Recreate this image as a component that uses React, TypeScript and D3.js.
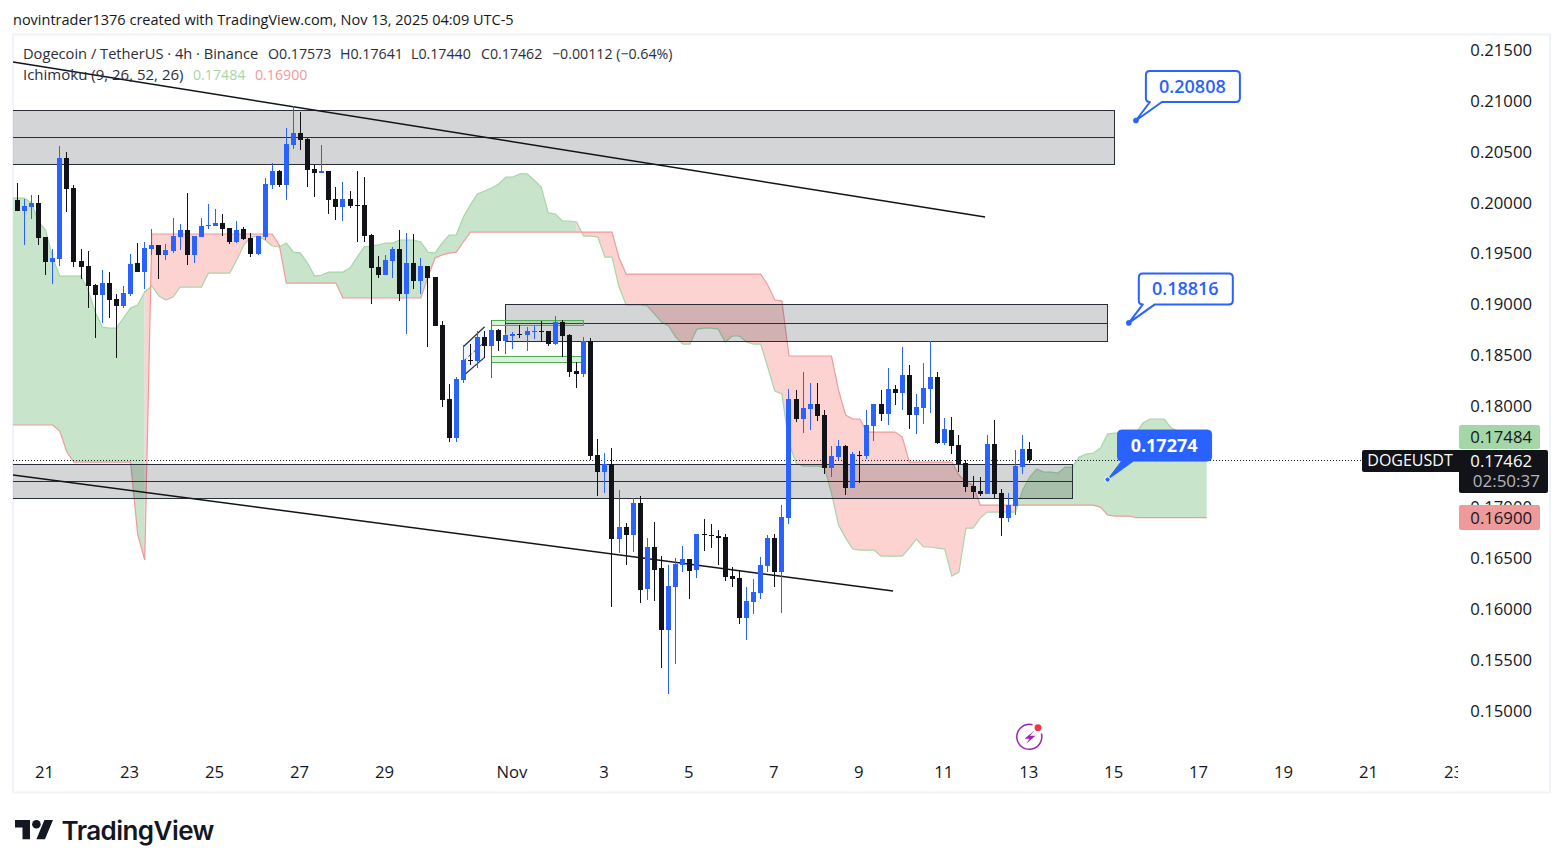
import * as d3 from "d3";

// candles
const opens = [
  0.20026,0.19917,0.19957,0.19996,0.19661,0.19415,0.19444,0.20439,0.20143,0.19425,
  0.19376,0.19189,0.19091,0.19208,0.19051,0.18982,0.19101,0.19405,0.19316,0.19543,
  0.19583,0.19484,0.19523,0.19661,0.1973,0.19484,0.19661,0.1977,0.1977,0.19799,
  0.1975,0.19612,0.1974,0.19651,0.19494,0.19661,0.20173,0.20311,0.20173,0.20567,
  0.20685,0.20626,0.20331,0.20291,0.20311,0.20035,0.19957,0.20035,0.19977,0.19977,
  0.19681,0.19366,0.19287,0.19425,0.19543,0.19101,0.19405,0.19228,0.19376,0.19267,
  0.18795,0.18067,0.17682,0.18254,0.1845,0.1844,0.18677,0.18588,0.18746,0.18637,
  0.18687,0.18707,0.18697,0.18726,0.18736,0.18736,0.18608,0.18824,0.18697,0.18342,
  0.18312,0.18637,0.17515,0.17348,0.17427,0.16689,0.16807,0.16728,0.17042,0.16197,
  0.1661,0.16403,0.15793,0.16216,0.16433,0.16492,0.16383,0.16738,0.16728,0.16718,
  0.16708,0.16324,0.16305,0.15911,0.16068,0.16157,0.16423,0.16698,0.16364,0.16895,
  0.18067,0.1787,0.17968,0.18018,0.17909,0.17388,0.17495,0.17604,0.17191,0.17515,
  0.17505,0.178,0.18018,0.17919,0.18165,0.18125,0.18303,0.17909,0.17978,0.18165,
  0.18283,0.17633,0.17761,0.17614,0.17437,0.1721,0.17161,0.17131,0.17624,0.17141,
  0.16895,0.17013,0.17397,0.17573,
];
const highs = [
  0.20192,0.20035,0.20075,0.20075,0.19661,0.19543,0.20557,0.20498,0.20173,0.19543,
  0.19523,0.19199,0.19336,0.19316,0.19101,0.19179,0.19494,0.19602,0.19612,0.1974,
  0.19583,0.19592,0.19848,0.1979,0.20094,0.19671,0.19848,0.19987,0.19937,0.19888,
  0.1975,0.19819,0.1976,0.197,0.19671,0.20242,0.2039,0.20321,0.20734,0.20951,
  0.20892,0.20636,0.2037,0.20567,0.20311,0.20153,0.20203,0.20114,0.20311,0.20252,
  0.19691,0.19474,0.19484,0.19563,0.1973,0.197,0.19691,0.19454,0.19376,0.19267,
  0.18834,0.18215,0.18283,0.18598,0.18608,0.18736,0.18736,0.18844,0.18756,0.18716,
  0.18726,0.18795,0.18775,0.18785,0.18834,0.18736,0.18883,0.18844,0.18707,0.1843,
  0.18677,0.18667,0.17673,0.17535,0.17584,0.17171,0.16846,0.17091,0.17111,0.16698,
  0.16856,0.16521,0.16433,0.16501,0.1662,0.16492,0.16738,0.16886,0.16836,0.16777,
  0.16738,0.16413,0.16383,0.16216,0.16295,0.16511,0.16728,0.16738,0.17023,0.18165,
  0.18155,0.18332,0.18224,0.18224,0.17958,0.17604,0.17663,0.17614,0.17545,0.17555,
  0.17958,0.18018,0.18155,0.18371,0.18205,0.18578,0.18401,0.18116,0.1842,0.18637,
  0.18332,0.17879,0.17889,0.17712,0.17466,0.17308,0.17299,0.17712,0.1786,0.17181,
  0.17141,0.17565,0.17712,0.17641,
];
const lows = [
  0.19917,0.19583,0.19838,0.19583,0.19287,0.19199,0.19376,0.19907,0.19366,0.19247,
  0.18962,0.18667,0.18814,0.18864,0.1847,0.18962,0.19081,0.19316,0.19149,0.19484,
  0.19247,0.19435,0.19503,0.19533,0.19386,0.19405,0.19661,0.1974,0.1977,0.19671,
  0.19592,0.19602,0.19632,0.19464,0.19484,0.19632,0.20133,0.20153,0.20026,0.20528,
  0.20518,0.20153,0.20055,0.20291,0.19888,0.19829,0.19819,0.19947,0.19612,0.19612,
  0.19002,0.19257,0.19287,0.19257,0.19031,0.18707,0.19149,0.19101,0.18578,0.18785,
  0.17988,0.17643,0.17643,0.18224,0.18401,0.18371,0.1847,0.18273,0.18539,0.1851,
  0.18559,0.18667,0.18539,0.18657,0.18628,0.18588,0.18598,0.1848,0.18283,0.18175,
  0.18283,0.17466,0.17112,0.17141,0.16019,0.16551,0.16433,0.1656,0.16058,0.16088,
  0.16078,0.15419,0.15163,0.15458,0.16364,0.16098,0.16305,0.1657,0.166,0.16433,
  0.16275,0.16216,0.15852,0.15694,0.15951,0.16098,0.16364,0.16216,0.1596,0.16836,
  0.1784,0.17731,0.17761,0.1785,0.17329,0.17299,0.17466,0.17122,0.17191,0.17239,
  0.17476,0.17653,0.1785,0.1781,0.18008,0.17958,0.17771,0.17722,0.1782,0.17929,
  0.17623,0.17614,0.17525,0.17348,0.17151,0.17092,0.17112,0.17131,0.17092,0.16718,
  0.16856,0.16925,0.17329,0.1744,
];
const closes = [
  0.19917,0.19967,0.19996,0.19651,0.19415,0.19454,0.20439,0.20133,0.19415,0.19366,
  0.19179,0.19091,0.19208,0.19041,0.18982,0.1911,0.19396,0.19316,0.19553,0.19583,
  0.19484,0.19533,0.19671,0.1973,0.19484,0.19671,0.1977,0.1978,0.19799,0.1974,
  0.19612,0.1973,0.19642,0.19494,0.19671,0.20183,0.20311,0.20173,0.20577,0.20685,
  0.20616,0.20321,0.20291,0.20311,0.20026,0.19957,0.20035,0.19967,0.19967,0.19671,
  0.19356,0.19287,0.19435,0.19543,0.19101,0.19405,0.19228,0.19376,0.19257,0.18785,
  0.18057,0.17682,0.18263,0.1845,0.1844,0.18677,0.18588,0.18746,0.18637,0.18697,
  0.18707,0.18697,0.18736,0.18736,0.18726,0.18608,0.18824,0.18687,0.18332,0.18312,
  0.18637,0.17505,0.17348,0.17427,0.16689,0.16807,0.16728,0.17042,0.16187,0.1661,
  0.16383,0.15793,0.16226,0.16443,0.16492,0.16373,0.16738,0.16728,0.16718,0.16698,
  0.16314,0.16295,0.15911,0.16078,0.16167,0.16433,0.16698,0.16364,0.16905,0.18067,
  0.1787,0.17978,0.18018,0.17899,0.17388,0.17505,0.17604,0.17191,0.17525,0.17505,
  0.1781,0.18018,0.17919,0.18165,0.18125,0.18303,0.17909,0.17988,0.18175,0.18283,
  0.17633,0.17771,0.17604,0.17427,0.172,0.17151,0.17131,0.17624,0.17131,0.16895,
  0.17023,0.17407,0.17575,0.17462,
];

// ichimoku leading spans, starting one bar left of the first candle and
// running 25 bars past the last one
const spanA = [
  0.20045,
  0.20045,0.20045,0.19996,0.19809,0.1973,0.19454,0.19277,0.19277,0.19277,0.19277,
  0.1914,0.18923,0.18775,0.18765,0.18765,0.18864,0.18962,0.18992,0.1912,0.19179,
  0.19081,0.19041,0.19071,0.19169,0.19169,0.19169,0.19169,0.19306,0.19306,0.19306,
  0.19306,0.19435,0.19583,0.19661,0.19671,0.19632,0.19573,0.19563,0.19602,0.19513,
  0.19503,0.19405,0.19277,0.19287,0.19316,0.19316,0.19316,0.19356,0.19464,0.19563,
  0.19573,0.19583,0.19602,0.19602,0.19632,0.19632,0.19632,0.19612,0.19513,0.19503,
  0.19602,0.19681,0.19681,0.19858,0.19977,0.20085,0.20114,0.20143,0.20183,0.20252,
  0.20252,0.20282,0.20282,0.20222,0.20153,0.19898,0.19888,0.19819,0.19819,0.19809,
  0.19671,0.19671,0.19661,0.19464,0.19464,0.19169,0.18992,0.18992,0.18992,0.18982,
  0.18904,0.18824,0.18785,0.18677,0.18608,0.18608,0.18755,0.18765,0.18765,0.18755,
  0.18628,0.18687,0.18687,0.18628,0.18608,0.18608,0.18381,0.18145,0.18116,0.17633,
  0.17437,0.17407,0.17407,0.17407,0.17397,0.17141,0.16826,0.16698,0.1659,0.1658,
  0.1658,0.1658,0.16521,0.16521,0.16521,0.16521,0.166,0.16689,0.1661,0.1661,
  0.166,0.1659,0.16324,0.16364,0.16797,0.16797,0.16895,0.16954,0.16954,0.16954,
  0.16954,0.16954,0.17171,0.17299,0.17378,0.17348,0.17348,0.17338,0.17397,0.17397,
  0.17495,0.17525,0.17535,0.17584,0.17722,0.17732,0.17732,0.17732,0.17732,0.1783,
  0.1787,0.1787,0.1787,0.17781,0.17751,0.17751,0.17663,0.17484,0.17484,
];
const spanB = [
  0.17811,
  0.17811,0.17811,0.17811,0.17811,0.17811,0.17811,0.17751,0.17545,0.17446,0.17446,
  0.17446,0.17446,0.17446,0.17446,0.17446,0.17446,0.17446,0.16738,0.16482,0.19691,
  0.19691,0.19691,0.19691,0.19691,0.19691,0.19691,0.19691,0.19691,0.19691,0.19691,
  0.19691,0.19691,0.19691,0.19691,0.19691,0.19691,0.19691,0.19583,0.19208,0.19208,
  0.19208,0.19208,0.19208,0.19208,0.19208,0.19208,0.19061,0.19061,0.19061,0.19061,
  0.19061,0.19061,0.19061,0.19061,0.19061,0.19061,0.19061,0.19061,0.19267,0.19454,
  0.19484,0.19503,0.19513,0.19612,0.1971,0.1971,0.1971,0.1971,0.1971,0.1971,
  0.1971,0.1971,0.1971,0.1971,0.1971,0.1971,0.1971,0.1971,0.1971,0.1971,
  0.1971,0.1971,0.1971,0.1971,0.1971,0.19454,0.19297,0.19297,0.19297,0.19297,
  0.19297,0.19297,0.19297,0.19297,0.19297,0.19297,0.19297,0.19297,0.19297,0.19297,
  0.19297,0.19297,0.19297,0.19297,0.19297,0.19297,0.19189,0.19041,0.19031,0.1849,
  0.1849,0.1849,0.1849,0.1849,0.1849,0.1849,0.18155,0.17909,0.1787,0.1787,
  0.17741,0.17741,0.17741,0.17741,0.17741,0.17692,0.17446,0.17446,0.17446,0.17446,
  0.17446,0.17446,0.17446,0.17319,0.17249,0.1722,0.17023,0.17023,0.17023,0.17023,
  0.17023,0.17023,0.17023,0.17023,0.17023,0.17023,0.17023,0.17023,0.17023,0.17023,
  0.17023,0.17023,0.17023,0.17003,0.16925,0.16915,0.16915,0.16915,0.169,0.169,
  0.169,0.169,0.169,0.169,0.169,0.169,0.169,0.169,0.169,
];

const priceTicks = [0.215, 0.21, 0.205, 0.2, 0.195, 0.19, 0.185, 0.18, 0.17, 0.165, 0.16, 0.155, 0.15];
const timeLabels = ["21", "23", "25", "27", "29", "Nov", "3", "5", "7", "9", "11", "13", "15", "17", "19", "21", "23"];
const timeBars = [4, 16, 28, 40, 52, 70, 83, 95, 107, 119, 131, 143, 155, 167, 179, 191, 203];

// drawings: [first bar, last bar, top, middle, bottom]
const zones = [
  [-1, 155, 0.20911, 0.20641, 0.20375],
  [69, 154, 0.18997, 0.18814, 0.18628],
  [-1, 149, 0.17427, 0.17254, 0.17087],
];
const trendLines = [
  [-0.6, 0.21384, 136.7, 0.19858],
  [-0.6, 0.17319, 123.7, 0.16177],
];
const greenBoxes = [
  [67, 80, 0.18839, 0.18795],
  [67, 80, 0.18487, 0.18428],
];
const flagBars = [63, 66];
const flagUpper = [0.18581, 0.18778];
const flagLower = [0.18296, 0.18477];
const callouts = [
  { bar: 158, price: 0.20808, solid: false },
  { bar: 157, price: 0.18816, solid: false },
  { bar: 154, price: 0.17274, solid: true },
];

const lastPrice = 0.17462;
const BLUE = "#2962ff";
const BLACK = "#111318";
const FONT = "'Open Sans', 'Noto Sans', sans-serif";

const x = d3.scaleLinear().domain([0, 143]).range([17.3, 1029.7]);
const y = d3.scaleLinear().domain([0.21, 0.15]).range([101, 710.6]);
const fmt = d3.format(".5f");

const spanLine = (vals: number[]) =>
  d3.line<number>().x((_, i) => x(i - 1)).y((v) => y(v))(vals) || "";

function cloudRuns() {
  // each bar gap takes the colour of the bar on its right, neighbouring
  // gaps of one colour go into one path so no seams show
  const area = d3
    .area<number>()
    .x((i) => x(i - 1))
    .y0((i) => y(spanA[i]))
    .y1((i) => y(spanB[i]));
  const isGreen = (i: number) => spanA[i] >= spanB[i];
  const runs: JSX.Element[] = [];
  let start = 0;
  for (let i = 1; i < spanA.length; i++) {
    if (i === spanA.length - 1 || isGreen(i + 1) !== isGreen(i)) {
      runs.push(
        <path
          key={i}
          d={area(d3.range(start, i + 1)) || ""}
          fill={isGreen(i) ? "#c8e4ca" : "#fdd3d2"}
        />
      );
      start = i;
    }
  }
  return runs;
}

function Callout({ bar, price, solid }: { bar: number; price: number; solid: boolean }) {
  const ax = x(bar);
  const ay = y(price);
  const l = ax + 10;
  const r = ax + 104;
  const t = ay - 49.5;
  const b = ay - 18.5;
  const c = 4;
  const d = `M${l + c},${t}H${r - c}Q${r},${t} ${r},${t + c}V${b - c}Q${r},${b} ${r - c},${b}H${l + 16}L${ax},${ay}L${l + 4},${b}H${l + c}Q${l},${b} ${l},${b - c}V${t + c}Q${l},${t} ${l + c},${t}Z`;
  return (
    <g>
      <path d={d} fill={solid ? BLUE : "#fff"} stroke={BLUE} strokeWidth={solid ? 1 : 2} strokeLinejoin="round" />
      <circle cx={ax} cy={ay} r={2.6} fill={BLUE} stroke={solid ? "#fff" : BLUE} strokeWidth={solid ? 1 : 0.5} />
      <text
        x={(l + r) / 2 - 0.5}
        y={(t + b) / 2 - 1}
        textAnchor="middle"
        dominantBaseline="central"
        fontFamily={FONT}
        fontSize={18}
        fontWeight={solid ? 700 : 600}
        fill={solid ? "#fff" : BLUE}
      >
        {fmt(price)}
      </text>
    </g>
  );
}

const boltRing = d3.arc()({
  innerRadius: 11.8,
  outerRadius: 13.3,
  startAngle: (75 * Math.PI) / 180,
  endAngle: (375 * Math.PI) / 180,
}) || "";

export default function App() {
  const wordFont = { fontFamily: FONT, fontSize: 15, fill: "#2a2e39" };
  const numFont = { fontFamily: FONT, fontSize: 14.2, fill: "#2a2e39" };
  const axisFont = { fontFamily: FONT, fontSize: 16.7 };
  return (
    <svg
      width={1563}
      height={868}
      style={{ position: "absolute", left: 0, top: 0, background: "#fff" }}
    >
      <defs>
        <clipPath id="pane">
          <rect x={13} y={35} width={1445} height={757} />
        </clipPath>
      </defs>

      <text x={13} y={24.5} fontFamily={FONT} fontSize={14.5} fill="#131722">
        novintrader1376 created with TradingView.com, Nov 13, 2025 04:09 UTC-5
      </text>
      <rect x={13} y={34.5} width={1537} height={758} fill="none" stroke="#f0f3fa" strokeWidth={2} />

      <g clipPath="url(#pane)">
        {cloudRuns()}
        <path d={spanLine(spanA)} fill="none" stroke="#a5d6a7" strokeWidth={1.2} />
        <path d={spanLine(spanB)} fill="none" stroke="#ef9a9a" strokeWidth={1.2} />

        {zones.map(([a, b, top, mid, bot], i) => (
          <g key={i} stroke="#2a2e39" strokeWidth={1} shapeRendering="crispEdges">
            <rect x={x(a)} y={y(top)} width={x(b) - x(a)} height={y(bot) - y(top)} fill="rgba(42,46,57,0.2)" />
            <line x1={x(a)} x2={x(b)} y1={y(mid)} y2={y(mid)} />
          </g>
        ))}

        {trendLines.map(([a, p1, b, p2], i) => (
          <line key={i} x1={x(a)} y1={y(p1)} x2={x(b)} y2={y(p2)} stroke={BLACK} strokeWidth={1.5} />
        ))}

        {greenBoxes.map(([a, b, top, bot], i) => (
          <rect
            key={i}
            x={x(a)}
            y={y(top)}
            width={x(b) - x(a)}
            height={y(bot) - y(top)}
            fill="rgba(76,175,80,0.2)"
            stroke="#4caf50"
            strokeWidth={1}
            shapeRendering="crispEdges"
          />
        ))}

        <path
          d={`M${x(flagBars[0])},${y(flagUpper[0])}L${x(flagBars[1])},${y(flagUpper[1])}L${x(flagBars[1])},${y(flagLower[1])}L${x(flagBars[0])},${y(flagLower[0])}Z`}
          fill="rgba(41,98,255,0.07)"
          stroke="none"
        />
        <line x1={x(flagBars[0])} x2={x(flagBars[0])} y1={y(flagUpper[0])} y2={y(flagLower[0])} stroke="#c5d3ee" />
        <line x1={x(flagBars[0])} x2={x(flagBars[1])} y1={y(flagUpper[0])} y2={y(flagUpper[1])} stroke="#2a2e39" strokeWidth={1.2} />
        <line x1={x(flagBars[0])} x2={x(flagBars[1])} y1={y(flagLower[0])} y2={y(flagLower[1])} stroke="#2a2e39" strokeWidth={1.2} />
        <line
          x1={x(flagBars[0])}
          x2={x(flagBars[1])}
          y1={y((flagUpper[0] + flagLower[0]) / 2)}
          y2={y((flagUpper[1] + flagLower[1]) / 2)}
          stroke="#2a2e39"
          strokeDasharray="4 3"
        />

        <line x1={13} x2={1458} y1={y(lastPrice)} y2={y(lastPrice)} stroke="#131722" strokeDasharray="1 2" />

        <g shapeRendering="crispEdges">
          {opens.map((o, i) => {
            const c = closes[i];
            const cx = Math.floor(x(i));
            const color = c >= o ? BLUE : BLACK;
            const top = Math.round(y(Math.max(o, c)));
            const bot = Math.round(y(Math.min(o, c)));
            return (
              <g key={i} fill={color}>
                <rect x={cx} y={y(highs[i])} width={1} height={y(lows[i]) - y(highs[i])} />
                <rect x={cx - 2} y={top} width={5} height={Math.max(1, bot - top)} />
              </g>
            );
          })}
        </g>

        {callouts.map((c, i) => (
          <Callout key={i} {...c} />
        ))}

        {/* bolt marker */}
        <path d={boltRing} transform="translate(1029.3,736.8)" fill="#9c27b0" />
        <path d="M1034.5,730.5L1024.5,738.8H1029.5L1026.5,743.5L1035.5,735.8H1030Z" fill="#9c27b0" />
        <circle cx={1038} cy={727.7} r={3.4} fill="#f23645" />
      </g>

      <text x={23} y={59} {...wordFont} fontSize={14.65}>Dogecoin / TetherUS · 4h · Binance</text>
      <text x={268} y={59} {...numFont}>O0.17573</text>
      <text x={340} y={59} {...numFont}>H0.17641</text>
      <text x={411} y={59} {...numFont}>L0.17440</text>
      <text x={481} y={59} {...numFont}>C0.17462</text>
      <text x={552} y={59} {...numFont}>−0.00112 (−0.64%)</text>
      <text x={23} y={80} {...wordFont}>Ichimoku (9, 26, 52, 26)</text>
      <text x={193} y={80} {...numFont} fill="#a5d6a7">0.17484</text>
      <text x={255} y={80} {...numFont} fill="#ef9a9a">0.16900</text>

      {/* price axis */}
      {priceTicks.map((p) => (
        <text
          key={p}
          x={1532}
          y={y(p) - 0.5}
          textAnchor="end"
          dominantBaseline="central"
          fill="#131722"
          {...axisFont}
        >
          {fmt(p)}
        </text>
      ))}
      <rect x={1459} y={425} width={81} height={24} rx={2} fill="#a5d6a7" />
      <text x={1532} y={436} textAnchor="end" dominantBaseline="central" fill="#131722" {...axisFont}>
        {fmt(spanA[spanA.length - 1])}
      </text>
      <rect x={1459} y={505} width={81} height={25} rx={2} fill="#ef9a9a" />
      <text x={1532} y={517} textAnchor="end" dominantBaseline="central" fill="#131722" {...axisFont}>
        {fmt(spanB[spanB.length - 1])}
      </text>
      <rect x={1362} y={450} width={100} height={22} rx={2} fill={BLACK} />
      <text x={1410} y={460} textAnchor="middle" dominantBaseline="central" fontFamily={FONT} fontSize={16} fill="#fff">
        DOGEUSDT
      </text>
      <rect x={1459} y={450} width={89} height={43} rx={2} fill={BLACK} />
      <text x={1532} y={460} textAnchor="end" dominantBaseline="central" fill="#fff" {...axisFont}>
        {fmt(lastPrice)}
      </text>
      <text x={1540} y={480.5} textAnchor="end" dominantBaseline="central" fill="#b2b5be" fontFamily={FONT} fontSize={17}>
        02:50:37
      </text>

      {/* time axis */}
      <g clipPath="url(#pane)">
        {timeLabels.map((t, i) => (
          <text
            key={i}
            x={x(timeBars[i]) - 1}
            y={771.5}
            textAnchor="middle"
            dominantBaseline="central"
            fill="#131722"
            {...axisFont}
          >
            {t}
          </text>
        ))}
      </g>

      {/* TradingView logo */}
      <g transform="translate(15,815.7) scale(1.07)" fill="#131722">
        <path d="M14 22H7V11H0V4h14v18zM28 22h-8l7.5-18h8L28 22z" />
        <circle cx={20} cy={8} r={4} />
      </g>
      <text x={61.5} y={840} fontFamily="Inter, sans-serif" fontWeight={600} fontSize={26} letterSpacing={-0.55} fill="#131722">
        TradingView
      </text>
    </svg>
  );
}
